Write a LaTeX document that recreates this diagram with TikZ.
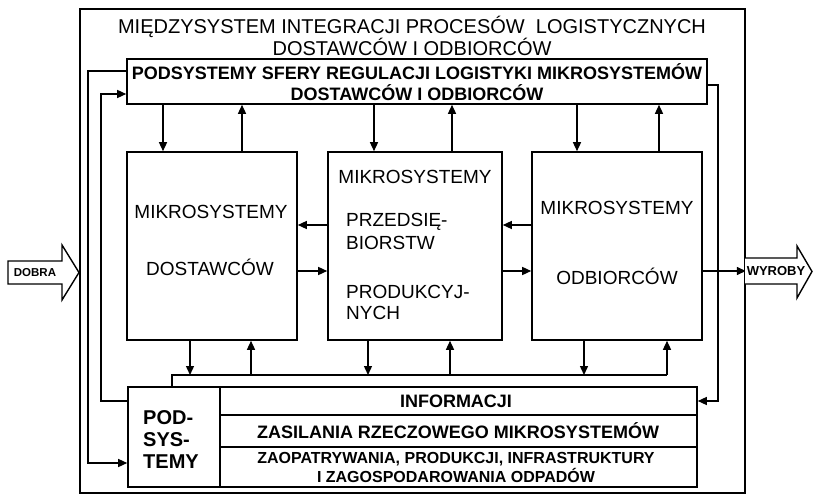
\documentclass[tikz,border=0pt]{standalone}
\usepackage{fontspec}
\setmainfont{Liberation Sans}
\usetikzlibrary{arrows.meta}
\newcommand{\fz}[2]{\fontsize{#1}{#2}\selectfont}
\tikzset{
  box/.style={draw, line width=1.6pt, inner sep=0pt},
  con/.style={line width=1.4pt},
  arr/.style={con, -{Triangle[length=9pt,width=8pt]}},
  txt/.style={inner sep=0pt, align=center},
  bigarrow/.style={draw, line width=1.4pt, fill=white, line join=miter}
}
\begin{document}
\begin{tikzpicture}[x=1pt,y=-1pt]
\useasboundingbox (0,0) rectangle (814,500);
% frame
\node[box, minimum width=665pt, minimum height=484pt] (frame) at (412.5,251) {};
\node[txt, font=\fz{20}{22}] (title) at (412,36) {MIĘDZYSYSTEM INTEGRACJI PROCESÓW\ \ LOGISTYCZNYCH\\DOSTAWCÓW I ODBIORCÓW};
% band
\node[box, minimum width=580pt, minimum height=45pt] (band) at (417,81.5) {};
\node[txt, font=\bfseries\fz{18}{21}] (bandtxt) at (417,82) {PODSYSTEMY SFERY REGULACJI LOGISTYKI MIKROSYSTEMÓW\\DOSTAWCÓW I ODBIORCÓW};
% three boxes
\node[box, minimum width=170pt, minimum height=188pt] (dost) at (212,246) {};
\node[box, minimum width=174pt, minimum height=188pt] (przed) at (415,246) {};
\node[box, minimum width=170pt, minimum height=188pt] (odb) at (617,246) {};
\node[txt, font=\fz{19}{21}] (dost1) at (211,212) {MIKROSYSTEMY};
\node[txt, font=\fz{19}{21}] (dost2) at (210,267) {DOSTAWCÓW};
\node[txt, font=\fz{19}{21}] (przed1) at (415,177) {MIKROSYSTEMY};
\node[txt, font=\fz{19}{23}, align=left, anchor=west] (przed2) at (346,231.5) {PRZEDSIĘ-\\BIORSTW};
\node[txt, font=\fz{19}{21}, align=left, anchor=west] (przed3) at (346,302.5) {PRODUKCYJ-\\NYCH};
\node[txt, font=\fz{19}{21}] (odb1) at (617,208) {MIKROSYSTEMY};
\node[txt, font=\fz{19}{21}] (odb2) at (617,276) {ODBIORCÓW};
% bottom subsystems
\node[box, minimum width=92pt, minimum height=100pt] (pods) at (174,437) {};
\node[box, minimum width=477pt, minimum height=28pt] (info) at (458.5,401) {};
\node[box, minimum width=477pt, minimum height=32pt] (zasil) at (458.5,431) {};
\node[box, minimum width=477pt, minimum height=40pt] (zaop) at (458.5,467) {};
\node[txt, font=\bfseries\fz{20}{22}, align=left, anchor=west] (podstxt) at (143,440) {POD-\\SYS-\\TEMY};
\node[txt, font=\bfseries\fz{18}{20}] (infotxt) at (456,401) {INFORMACJI};
\node[txt, font=\bfseries\fz{18}{20}] (zasiltxt) at (458,431) {ZASILANIA RZECZOWEGO MIKROSYSTEMÓW};
\node[txt, font=\bfseries\fz{16}{19}] (zaoptxt) at (456,467) {ZAOPATRYWANIA, PRODUKCJI, INFRASTRUKTURY\\I ZAGOSPODAROWANIA ODPADÓW};
% bus
\coordinate (busL) at (172,375);
\coordinate (busR) at (667,375);
\draw[con] (busL |- pods.north) -- (busL) -- (busR);
% box -> bus (down) and bus -> box (up)
\draw[arr] (190,0 |- dost.south) -- (190,0 |- busL);
\draw[arr] (251,0 |- busL) -- (251,0 |- dost.south);
\draw[arr] (368,0 |- przed.south) -- (368,0 |- busL);
\draw[arr] (450,0 |- busL) -- (450,0 |- przed.south);
\draw[arr] (584,0 |- odb.south) -- (584,0 |- busL);
\draw[arr] (busR) -- (busR |- odb.south);
% band <-> boxes
\draw[arr] (163,0 |- band.south) -- (163,0 |- dost.north);
\draw[arr] (242,0 |- dost.north) -- (242,0 |- band.south);
\draw[arr] (374,0 |- band.south) -- (374,0 |- przed.north);
\draw[arr] (452,0 |- przed.north) -- (452,0 |- band.south);
\draw[arr] (577,0 |- band.south) -- (577,0 |- odb.north);
\draw[arr] (659,0 |- odb.north) -- (659,0 |- band.south);
% horizontal between boxes
\draw[arr] (przed.west |- 0,225) -- (dost.east |- 0,225);
\draw[arr] (dost.east |- 0,271) -- (przed.west |- 0,271);
\draw[arr] (odb.west |- 0,225) -- (przed.east |- 0,225);
\draw[arr] (przed.east |- 0,271) -- (odb.west |- 0,271);
\draw[arr] (odb.east |- 0,271) -- (frame.east |- 0,271);
% feedback loops
\draw[arr] (band.west |- 0,71) -- (88,71) -- (88,463) -- (pods.west |- 0,463);
\draw[arr] (pods.west |- 0,401) -- (101,401) -- (101,94) -- (band.west |- 0,94);
\draw[arr] (band.east |- 0,85) -- (718,85) -- (718,401) -- (info.east |- 0,401);
% input / output arrows
\draw[bigarrow] (8,261) -- (62,261) -- (62,245) -- (79,272.5) -- (62,300) -- (62,284) -- (8,284) -- cycle;
\node[txt, font=\bfseries\fz{11.5}{13}] (dobra) at (35,272.5) {DOBRA};
\draw[bigarrow] (745,258) -- (797,258) -- (797,246) -- (812,271.5) -- (797,298) -- (797,284) -- (745,284);
\node[txt, font=\bfseries\fz{13}{15}] (wyroby) at (776,271) {WYROBY};
\end{tikzpicture}
\end{document}
